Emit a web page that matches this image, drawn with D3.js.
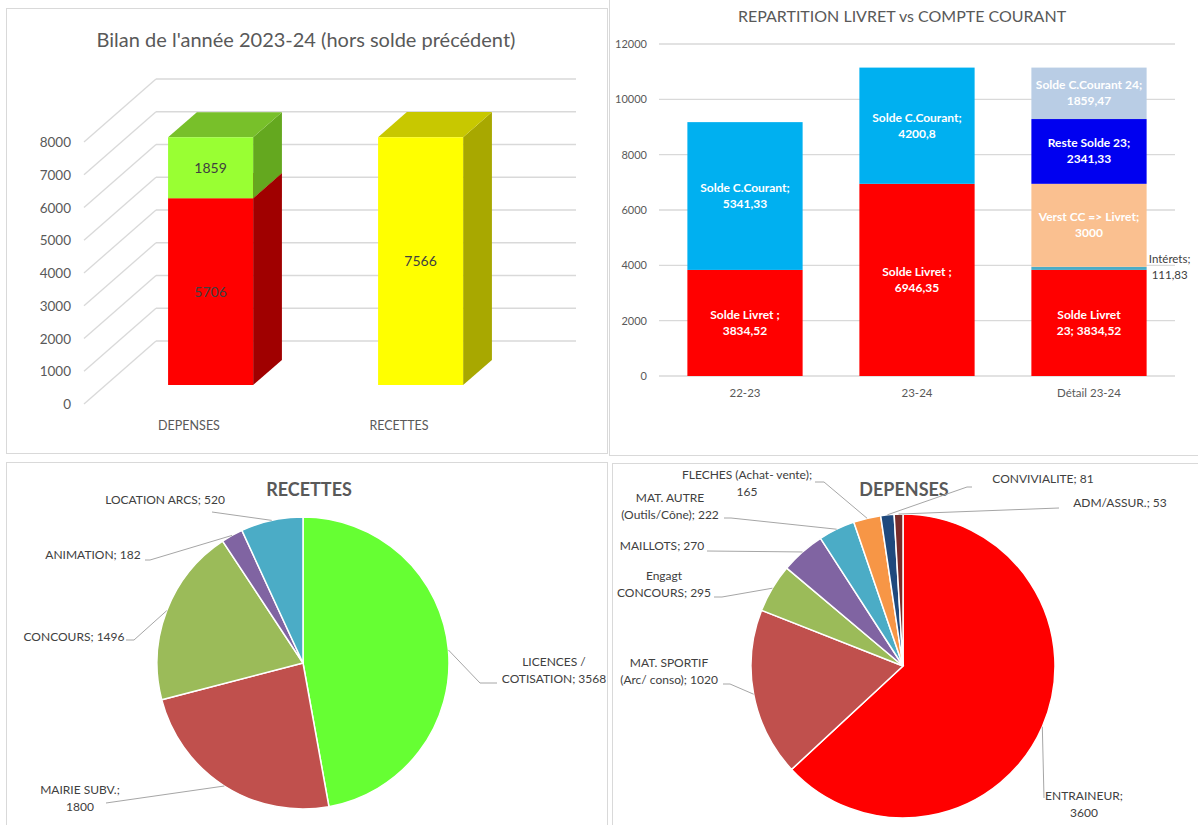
<!DOCTYPE html>
<html>
<head>
<meta charset="utf-8">
<script src="https://cdn.jsdelivr.net/npm/d3@7"></script>
<style>
	body { margin: 0; background: #fff; }
	svg text { font-family: Lato, "Open Sans", sans-serif; }
</style>
</head>
<body>
<script>
(function () {
	"use strict";

	var w = 1198;
	var h = 825;

	// Bilan 2023-24 (colonnes 3D empilées)
	var bilanCategories = ["DEPENSES", "RECETTES"];
	var bilanDepenses = [5706, 0];
	var bilanSolde = [1859, 0];
	var bilanRecettes = [0, 7566];
	var bilanTicks = [0, 1000, 2000, 3000, 4000, 5000, 6000, 7000, 8000];

	// Répartition livret / compte courant
	var repCategories = ["22-23", "23-24", "Détail 23-24"];
	var repSeriesNames = ["Solde Livret ", "Solde Livret 23", "Intérets", "Verst CC => Livret", "Reste Solde 23", "Solde C.Courant", "Solde C.Courant 24"];
	var repSoldeLivret = [3834.52, 6946.35, 0];
	var repSoldeLivret23 = [0, 0, 3834.52];
	var repInterets = [0, 0, 111.83];
	var repVersement = [0, 0, 3000];
	var repResteSolde = [0, 0, 2341.33];
	var repSoldeCC = [5341.33, 4200.8, 0];
	var repSoldeCC24 = [0, 0, 1859.47];
	var repTicks = [0, 2000, 4000, 6000, 8000, 10000, 12000];

	// Camemberts
	var recettesNames = ["LICENCES / COTISATION", "MAIRIE SUBV.", "CONCOURS", "ANIMATION", "LOCATION ARCS"];
	var recettesValues = [3568, 1800, 1496, 182, 520];

	var depensesNames = ["ENTRAINEUR", "MAT. SPORTIF (Arc/ conso)", "Engagt CONCOURS", "MAILLOTS", "MAT. AUTRE (Outils/Cône)", "FLECHES (Achat- vente)", "CONVIVIALITE", "ADM/ASSUR."];
	var depensesValues = [3600, 1020, 295, 270, 222, 165, 81, 53];

	// styles
	var grid = "#d9d9d9";
	var axisText = "#595959";
	var labelText = "#404040";
	var bilanFaces = {
		depenses: { front: "#ff0000", top: "#c00000", side: "#a00000" },
		solde: { front: "#99ff33", top: "#78c02a", side: "#64a81f" },
		recettes: { front: "#ffff00", top: "#c8c800", side: "#a8a800" }
	};
	var repColors = ["#ff0000", "#ff0000", "#4bacc6", "#fac090", "#0000f0", "#00b0f0", "#b9cde5"];
	var recettesColors = ["#66ff33", "#c0504d", "#9bbb59", "#8064a2", "#4bacc6"];
	var depensesColors = ["#ff0000", "#c0504d", "#9bbb59", "#8064a2", "#4bacc6", "#f79646", "#1f497d", "#772c2a"];

	// placement manuel des étiquettes (décalages depuis le centre du camembert)
	var recettesLabels = [
		{ dx: 251, dy: -1, split: 2, leader: [[194, 20], [177, 20]] },
		{ dx: -223, dy: 127, split: 2, leader: [[-197, 140]] },
		{ dx: -229, dy: -26, split: 0, leader: [[-177, -23], [-169, -23]] },
		{ dx: -210, dy: -108, split: 0, leader: [[-158, -103], [-153, -103]] },
		{ dx: -138, dy: -163, split: 0, leader: [[-91, -151]] }
	];
	var depensesLabels = [
		{ dx: 181, dy: 130, split: 1, leader: [[141, 132]] },
		{ dx: -234, dy: -3, split: 2, leader: [[-180, 18], [-173, 18]] },
		{ dx: -239, dy: -90, split: 1, leader: [[-189, -69], [-181, -69]] },
		{ dx: -241, dy: -120, split: 0, leader: [[-196, -115]] },
		{ dx: -233, dy: -168, split: 2, leader: [[-179, -148], [-172, -148]] },
		{ dx: -156, dy: -191, split: 3, leader: [[-88, -184], [-79, -184]] },
		{ dx: 140, dy: -187, split: 0, leader: [[69, -179], [64, -179]] },
		{ dx: 217, dy: -163, split: 0, leader: [[156, -158]] }
	];

	var svg = d3.select("body").append("svg")
		.attr("width", w)
		.attr("height", h);

	svg.append("rect").attr("width", w).attr("height", h).attr("fill", "#fff");

	function frame(x, y, fw, fh) {
		svg.append("rect")
			.attr("x", x + 0.5).attr("y", y + 0.5)
			.attr("width", fw).attr("height", fh)
			.attr("fill", "none")
			.attr("stroke", grid);
	}

	function fmt(v) {
		return String(v).replace(".", ",");
	}

	function buildBilan() {
		frame(6, 8, 601, 445);
		var g = svg.append("g");

		g.append("text")
			.attr("x", 306).attr("y", 47)
			.attr("text-anchor", "middle")
			.attr("font-size", 20)
			.attr("fill", axisText)
			.text("Bilan de l'année 2023-24 (hors solde précédent)");

		var depth = [72, -63];
		var zFront = 0.3, zBack = 0.7;

		var xScale = d3.scaleBand()
			.domain(bilanCategories)
			.range([84, 504])
			.paddingInner(0.595)
			.paddingOuter(0.2975);

		var yScale = d3.scaleLinear()
			.domain([0, 8000])
			.range([404, 142]);

		function P(x, v, z) {
			return [x + z * depth[0], yScale(v) + z * depth[1]];
		}

		var x0 = xScale.range()[0], x1 = xScale.range()[1];

		// murs : lignes de quadrillage
		g.selectAll(".wall").data(bilanTicks).join("line")
			.attr("x1", (d) => P(x0, d, 0)[0]).attr("y1", (d) => P(x0, d, 0)[1])
			.attr("x2", (d) => P(x0, d, 1)[0]).attr("y2", (d) => P(x0, d, 1)[1])
			.attr("stroke", grid).attr("stroke-width", 1.3);
		g.selectAll(".back").data(bilanTicks).join("line")
			.attr("x1", (d) => P(x0, d, 1)[0]).attr("y1", (d) => P(x0, d, 1)[1])
			.attr("x2", (d) => P(x1, d, 1)[0]).attr("y2", (d) => P(x1, d, 1)[1])
			.attr("stroke", grid).attr("stroke-width", 1.3);

		g.selectAll(".tick").data(bilanTicks).join("text")
			.attr("x", 71).attr("y", (d) => yScale(d) + 5)
			.attr("text-anchor", "end")
			.attr("font-size", 13.5)
			.attr("fill", axisText)
			.text((d) => d);

		var table = bilanCategories.map(function (c, i) {
			return { cat: c, depenses: bilanDepenses[i], solde: bilanSolde[i], recettes: bilanRecettes[i] };
		});
		var keys = ["depenses", "solde", "recettes"];
		var stacked = d3.stack().keys(keys)(table);

		var poly = (pts) => pts.map((p) => p.join(",")).join(" ");

		stacked.forEach(function (layer) {
			var faces = bilanFaces[layer.key];
			layer.forEach(function (d) {
				if (d[1] <= d[0]) return;
				var a = xScale(d.data.cat), b = a + xScale.bandwidth();
				g.append("polygon")
					.attr("points", poly([P(b, d[0], zFront), P(b, d[0], zBack), P(b, d[1], zBack), P(b, d[1], zFront)]))
					.attr("fill", faces.side);
				g.append("polygon")
					.attr("points", poly([P(a, d[1], zFront), P(b, d[1], zFront), P(b, d[1], zBack), P(a, d[1], zBack)]))
					.attr("fill", faces.top);
				g.append("polygon")
					.attr("points", poly([P(a, d[0], zFront), P(b, d[0], zFront), P(b, d[1], zFront), P(a, d[1], zFront)]))
					.attr("fill", faces.front);
				var c = P((a + b) / 2, (d[0] + d[1]) / 2, zFront);
				g.append("text")
					.attr("x", c[0]).attr("y", c[1] + 5)
					.attr("text-anchor", "middle")
					.attr("font-size", 14)
					.attr("fill", labelText)
					.text(d.data[layer.key]);
			});
		});

		g.selectAll(".cat").data(bilanCategories).join("text")
			.attr("x", (d) => xScale(d) + xScale.bandwidth() / 2)
			.attr("y", 430)
			.attr("text-anchor", "middle")
			.attr("font-size", 12.5)
			.attr("fill", axisText)
			.text((d) => d);
	}

	function buildRepartition() {
		frame(609, -2, 600, 457);
		var g = svg.append("g");

		g.append("text")
			.attr("x", 902).attr("y", 22)
			.attr("text-anchor", "middle")
			.attr("font-size", 16)
			.attr("fill", axisText)
			.text("REPARTITION LIVRET vs COMPTE COURANT");

		var xScale = d3.scaleBand()
			.domain(repCategories)
			.range([659, 1175])
			.paddingInner(0.33)
			.paddingOuter(0.165);

		var yScale = d3.scaleLinear()
			.domain([0, 12000])
			.range([376, 44]);

		g.selectAll(".grid").data(repTicks).join("line")
			.attr("x1", 659).attr("x2", 1175)
			.attr("y1", (d) => yScale(d)).attr("y2", (d) => yScale(d))
			.attr("stroke", grid).attr("stroke-width", 1.3);

		g.selectAll(".tick").data(repTicks).join("text")
			.attr("x", 647).attr("y", (d) => yScale(d) + 4)
			.attr("text-anchor", "end")
			.attr("font-size", 11)
			.attr("fill", axisText)
			.text((d) => d);

		g.selectAll(".cat").data(repCategories).join("text")
			.attr("x", (d) => xScale(d) + xScale.bandwidth() / 2)
			.attr("y", 397)
			.attr("text-anchor", "middle")
			.attr("font-size", 11.5)
			.attr("fill", axisText)
			.text((d) => d);

		var values = [repSoldeLivret, repSoldeLivret23, repInterets, repVersement, repResteSolde, repSoldeCC, repSoldeCC24];
		var table = repCategories.map(function (c, i) {
			var row = { cat: c };
			repSeriesNames.forEach(function (n, k) { row[n] = values[k][i]; });
			return row;
		});
		var stacked = d3.stack().keys(repSeriesNames)(table);

		stacked.forEach(function (layer, k) {
			g.selectAll(null).data(layer.filter((d) => d[1] > d[0])).join("rect")
				.attr("x", (d) => xScale(d.data.cat))
				.attr("width", xScale.bandwidth())
				.attr("y", (d) => yScale(d[1]))
				.attr("height", (d) => yScale(d[0]) - yScale(d[1]))
				.attr("fill", repColors[k]);
		});

		stacked.forEach(function (layer) {
			layer.filter((d) => d[1] > d[0]).forEach(function (d) {
				var v = d.data[layer.key];
				var lines;
				if (layer.key === "Solde Livret 23") {
					lines = ["Solde Livret", "23; " + fmt(v)];
				} else {
					lines = [layer.key + ";", fmt(v)];
				}
				var outside = layer.key === "Intérets";
				var cx = xScale(d.data.cat) + xScale.bandwidth() / 2;
				var cy = yScale((d[0] + d[1]) / 2);
				if (outside) {
					cx = xScale(d.data.cat) + xScale.bandwidth() + 23;
					cy -= 1;
				}
				var t = g.append("text")
					.attr("text-anchor", "middle")
					.attr("font-size", outside ? 11.5 : 12)
					.attr("font-weight", outside ? "normal" : "bold")
					.attr("fill", outside ? labelText : "#fff");
				lines.forEach(function (line, i) {
					t.append("tspan")
						.attr("x", cx)
						.attr("y", cy + (i - 0.5) * 16 + 4)
						.text(line);
				});
			});
		});
	}

	function buildPie(opts) {
		frame(opts.frame[0], opts.frame[1], opts.frame[2], opts.frame[3]);
		var g = svg.append("g");

		g.append("text")
			.attr("x", opts.title[0]).attr("y", opts.title[1] + 7)
			.attr("text-anchor", "middle")
			.attr("font-size", 18)
			.attr("font-weight", "bold")
			.attr("fill", axisText)
			.text(opts.name);

		var pie = d3.pie().sort(null).value((d) => d);
		var arcs = pie(opts.values);
		var arc = d3.arc().innerRadius(0).outerRadius(opts.r);

		var pg = g.append("g").attr("transform", "translate(" + opts.cx + "," + opts.cy + ")");

		pg.selectAll("path").data(arcs).join("path")
			.attr("d", arc)
			.attr("fill", (d, i) => opts.colors[i])
			.attr("stroke", "#fff")
			.attr("stroke-width", 1.5);

		arcs.forEach(function (d, i) {
			var lay = opts.labels[i];
			var mid = (d.startAngle + d.endAngle) / 2;
			var edge = [opts.r * Math.sin(mid), -opts.r * Math.cos(mid)];
			var pts = lay.leader.concat([edge]);
			pg.append("polyline")
				.attr("points", pts.map((p) => p.join(",")).join(" "))
				.attr("fill", "none")
				.attr("stroke", "#a6a6a6")
				.attr("stroke-width", 1);

			var words = (opts.names[i] + "; " + d.data).split(" ");
			var lines = lay.split ? [words.slice(0, lay.split).join(" "), words.slice(lay.split).join(" ")] : [words.join(" ")];
			var t = pg.append("text")
				.attr("text-anchor", "middle")
				.attr("font-size", 12)
				.attr("fill", labelText);
			lines.forEach(function (line, k) {
				t.append("tspan")
					.attr("x", lay.dx)
					.attr("y", lay.dy + k * 17 + 4)
					.text(line);
			});
		});
	}

	buildBilan();
	buildRepartition();

	buildPie({
		name: "RECETTES",
		frame: [6, 462, 601, 380],
		title: [309, 489],
		cx: 303, cy: 663, r: 146,
		names: recettesNames,
		values: recettesValues,
		colors: recettesColors,
		labels: recettesLabels
	});

	buildPie({
		name: "DEPENSES",
		frame: [612, 463, 600, 380],
		title: [904, 489],
		cx: 903, cy: 666, r: 152,
		names: depensesNames,
		values: depensesValues,
		colors: depensesColors,
		labels: depensesLabels
	});
})();
</script>
</body>
</html>
